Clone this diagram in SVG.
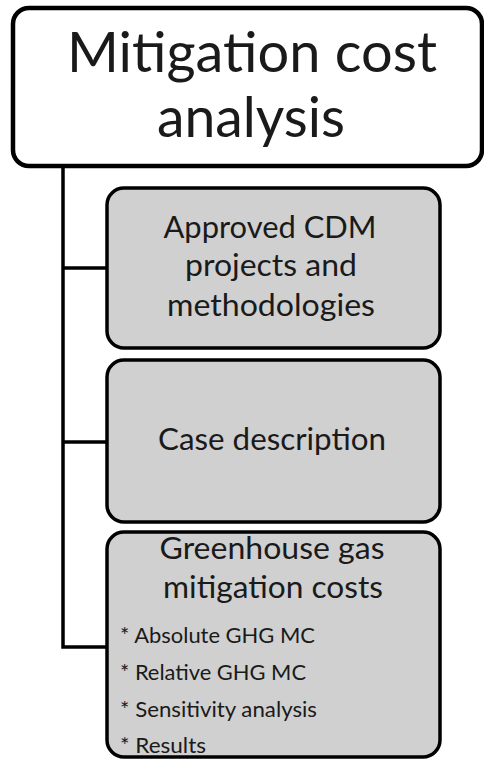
<svg xmlns="http://www.w3.org/2000/svg" width="484" height="760" viewBox="0 0 484 760">
  <style>
    text { font-family: Lato, "Open Sans", "Liberation Sans", sans-serif; fill: #1a1a1a; }
    .title { font-size: 56px; text-anchor: middle; }
    .label { font-size: 30px; text-anchor: middle; }
    .item { font-size: 22px; }
    .root { fill: #ffffff; stroke: #000000; stroke-width: 4.5; }
    .box { fill: #d0d0d0; stroke: #000000; stroke-width: 3.5; }
    .wire { fill: none; stroke: #000000; stroke-width: 3.5; }
  </style>

  <!-- tree connectors -->
  <g id="connectors">
    <path class="wire" d="M63,166 V647 H107"/>
    <path class="wire" d="M63,268 H107"/>
    <path class="wire" d="M63,442 H107"/>
  </g>

  <g id="root">
    <rect class="root" x="13" y="8" width="469" height="158" rx="16"/>
    <text class="title" x="252" y="72" textLength="370" lengthAdjust="spacingAndGlyphs">Mitigation cost</text>
    <text class="title" x="251" y="137" textLength="188" lengthAdjust="spacingAndGlyphs">analysis</text>
  </g>

  <g id="approved">
    <rect class="box" x="107" y="188" width="333" height="160" rx="17"/>
    <text class="label" x="270" y="238" textLength="213" lengthAdjust="spacingAndGlyphs">Approved CDM</text>
    <text class="label" x="271" y="276" textLength="172" lengthAdjust="spacingAndGlyphs">projects and</text>
    <text class="label" x="271" y="316" textLength="208" lengthAdjust="spacingAndGlyphs">methodologies</text>
  </g>

  <g id="case">
    <rect class="box" x="107" y="360" width="333" height="162" rx="17"/>
    <text class="label" x="272" y="450" textLength="228" lengthAdjust="spacingAndGlyphs">Case description</text>
  </g>

  <g id="costs">
    <rect class="box" x="107" y="532" width="333" height="225" rx="17"/>
    <text class="label" x="272" y="559" textLength="225" lengthAdjust="spacingAndGlyphs">Greenhouse gas</text>
    <text class="label" x="273" y="598" textLength="220" lengthAdjust="spacingAndGlyphs">mitigation costs</text>
    <text class="item" x="120" y="643" textLength="195" lengthAdjust="spacingAndGlyphs">* Absolute GHG MC</text>
    <text class="item" x="120" y="680" textLength="186" lengthAdjust="spacingAndGlyphs">* Relative GHG MC</text>
    <text class="item" x="120" y="717" textLength="197" lengthAdjust="spacingAndGlyphs">* Sensitivity analysis</text>
    <text class="item" x="120" y="753" textLength="86" lengthAdjust="spacingAndGlyphs">* Results</text>
  </g>
</svg>
